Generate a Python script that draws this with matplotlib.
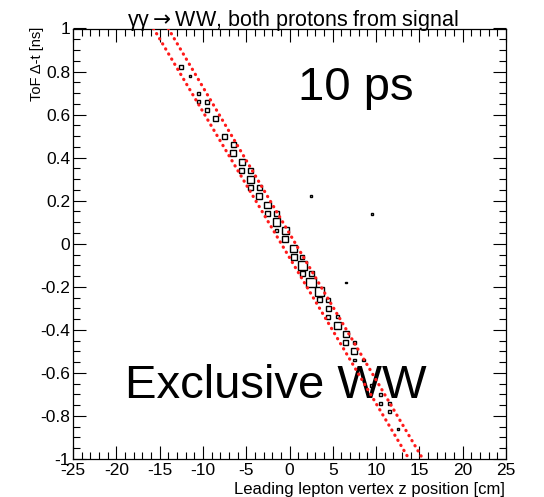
import matplotlib
matplotlib.use("Agg")
import matplotlib.pyplot as plt
from matplotlib.patches import Rectangle
from matplotlib.ticker import MultipleLocator, FuncFormatter

plt.rcParams['font.family'] = ['Liberation Sans', 'DejaVu Sans']

# ---- data: bin centres (z [cm], dt [ns]) and box content ----
z_vals = [-12.5, -11.5, -10.5, -10.5, -9.5, -9.5, -8.5, -7.5, -6.5, -6.5,
          -5.5, -5.5, -4.5, -4.5, -4.5, -3.5, -3.5, -2.5, -2.5, -1.5,
          -1.5, -1.5, -0.5, -0.5, 0.5, 0.5, 1.5, 1.5, 1.5, 2.5,
          2.5, 3.5, 3.5, 4.5, 4.5, 4.5, 5.5, 5.5, 6.5, 6.5,
          7.5, 7.5, 7.5, 8.5, 9.5, 10.5, 10.5, 11.5, 11.5, 12.5,
          2.5, 9.5, 6.5]
t_vals = [0.82, 0.78, 0.70, 0.66, 0.66, 0.62, 0.58, 0.50, 0.46, 0.42,
          0.38, 0.34, 0.34, 0.30, 0.26, 0.26, 0.22, 0.18, 0.14, 0.14,
          0.10, 0.06, 0.06, 0.02, -0.02, -0.06, -0.06, -0.10, -0.14, -0.14,
          -0.18, -0.22, -0.26, -0.26, -0.30, -0.34, -0.34, -0.38, -0.42, -0.46,
          -0.46, -0.50, -0.54, -0.54, -0.66, -0.70, -0.74, -0.74, -0.78, -0.86,
          0.22, 0.14, -0.18]
counts = [4, 2, 3, 3, 4, 4, 5, 5, 5, 6,
          6, 5, 5, 7, 5, 5, 6, 7, 5, 5,
          8, 3, 7, 6, 7, 6, 4, 9, 5, 5,
          10, 9, 5, 4, 5, 4, 3, 7, 6, 5,
          3, 6, 3, 3, 3, 3, 3, 3, 3, 2,
          2, 2, 2]

# red band boundaries: z at dt = +1 and at dt = -1
band_z_top = [-15.7, -14.0]
band_z_bottom = [13.8, 15.4]

x_range = (-25, 25)
y_range = (-1, 1)
bin_w = 1.0
bin_h = 0.04
full_bin_count = 8.7

title = "\u03b3\u03b3$\\rightarrow$WW, both protons from signal"
xlabel = "Leading lepton vertex z position [cm]"
ylabel = "ToF \u0394-t [ns]"

W, H = 544, 497
fig = plt.figure(figsize=(W / 100, H / 100), dpi=100)
ax = fig.add_axes([73 / W, 1 - 459 / H, (506 - 73) / W, (459 - 28.5) / H])
ax.set_xlim(*x_range)
ax.set_ylim(*y_range)

for z, t, c in zip(z_vals, t_vals, counts):
    f = c / full_bin_count
    w = bin_w * f
    h = bin_h * f
    ax.add_patch(Rectangle((z - w / 2, t - h / 2), w, h, fill=False,
                           edgecolor='black', linewidth=1.0, zorder=2))

for zt, zb in zip(band_z_top, band_z_bottom):
    ax.plot([zt, zb], [y_range[1], y_range[0]], color='#ff1a1a', linewidth=2.3,
            linestyle=(0, (0.1, 1.75)), dash_capstyle='round', zorder=3)

ax.xaxis.set_major_locator(MultipleLocator(5))
ax.xaxis.set_minor_locator(MultipleLocator(1))
ax.yaxis.set_major_locator(MultipleLocator(0.2))
ax.yaxis.set_minor_locator(MultipleLocator(0.05))
fmt = FuncFormatter(lambda v, p: ('%g' % round(v, 6)) if abs(v) > 1e-9 else '0')
ax.xaxis.set_major_formatter(fmt)
ax.yaxis.set_major_formatter(fmt)
ax.tick_params(which='both', direction='in', top=True, right=True,
               labelsize=12.5, width=0.8)
ax.tick_params(which='major', length=9.4)
ax.tick_params(which='minor', length=4.7)
ax.tick_params(axis='x', pad=3)
ax.tick_params(axis='y', pad=2)
for s in ax.spines.values():
    s.set_linewidth(0.9)

ax.text(293 / W, 1 - 26 / H, title, transform=fig.transFigure, ha='center',
        va='baseline', fontsize=15.5, clip_on=False)
ax.text(505 / W, 1 - 494 / H, xlabel, transform=fig.transFigure, ha='right',
        va='baseline', fontsize=12, clip_on=False)
ax.text(37 / W, 1 - 27 / H, ylabel, transform=fig.transFigure, ha='center',
        va='top', rotation=90, fontsize=10.5, clip_on=False)
ax.text(298 / W, 1 - 100 / H, "10 ps", transform=fig.transFigure, ha='left',
        va='baseline', fontsize=34, zorder=1, clip_on=False)
ax.text(125 / W, 1 - 398 / H, "Exclusive WW", transform=fig.transFigure,
        ha='left', va='baseline', fontsize=34, zorder=1, clip_on=False)

fig.savefig("out.png", dpi=100)
